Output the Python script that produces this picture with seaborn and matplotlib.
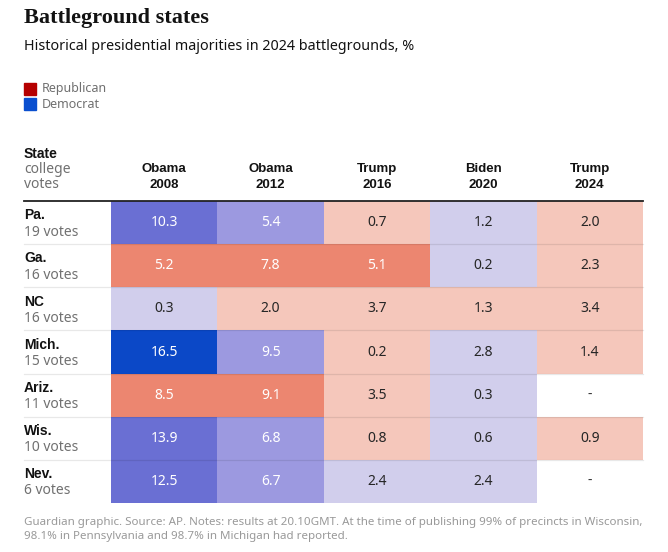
import numpy as np
import pandas as pd
import matplotlib
matplotlib.use("Agg")
import matplotlib.pyplot as plt
from matplotlib.colors import ListedColormap, BoundaryNorm
from matplotlib.patches import Rectangle
import matplotlib.transforms as mtransforms
import seaborn as sns

# data
states = ["Pa.", "Ga.", "NC", "Mich.", "Ariz.", "Wis.", "Nev."]
votes = [19, 16, 16, 15, 11, 10, 6]
candidates = ["Obama", "Obama", "Trump", "Biden", "Trump"]
years = ["2008", "2012", "2016", "2020", "2024"]

# winning margin, % (nan = not called)
margins = [
    [10.3, 5.4, 0.7, 1.2, 2.0],
    [5.2, 7.8, 5.1, 0.2, 2.3],
    [0.3, 2.0, 3.7, 1.3, 3.4],
    [16.5, 9.5, 0.2, 2.8, 1.4],
    [8.5, 9.1, 3.5, 0.3, np.nan],
    [13.9, 6.8, 0.8, 0.6, 0.9],
    [12.5, 6.7, 2.4, 2.4, np.nan],
]
# winning party per state / election
winners = [
    ["D", "D", "R", "D", "R"],
    ["R", "R", "R", "D", "R"],
    ["D", "R", "R", "R", "R"],
    ["D", "D", "R", "D", "R"],
    ["R", "R", "R", "D", "-"],
    ["D", "D", "R", "D", "R"],
    ["D", "D", "D", "D", "-"],
]

elections = [f"{c} {y}" for c, y in zip(candidates, years)]
abs_df = pd.DataFrame(margins, index=states, columns=elections)
sign = pd.DataFrame(winners, index=states, columns=elections).replace({"D": -1, "R": 1, "-": np.nan}).astype(float)
signed = abs_df * sign

# binned colour scale: democrat negative, republican positive
bins = [-20, -15, -10, -5, 0, 5, 10]
colors = ["#0b48c7", "#6a6fd3", "#9c99e0", "#d1ceec", "#f5c7bb", "#ec8670"]
cmap = ListedColormap(colors)
norm = BoundaryNorm(bins, cmap.N)

sans = ["Noto Sans", "DejaVu Sans"]
bold_sans = ["Liberation Sans", "DejaVu Sans"]
plt.rcParams["font.family"] = sans

fig = plt.figure(figsize=(6.68, 5.52), dpi=100)
W, H = 668, 552
ax = fig.add_axes([111 / W, 1 - 503 / H, 532 / W, 302 / H])

sns.heatmap(signed, ax=ax, cmap=cmap, norm=norm, cbar=False,
            annot=abs_df, fmt=".1f", annot_kws={"fontsize": 10},
            linewidths=0)

# dashes for missing cells
for i, row in enumerate(winners):
    for j, w in enumerate(row):
        if w == "-":
            ax.text(j + 0.5, i + 0.5, "-", ha="center", va="center",
                    fontsize=10, color="#333333")

ax.set_xticks([])
ax.set_yticks([])
ax.set_xlabel("")
ax.set_ylabel("")

# column headers
trans_top = mtransforms.blended_transform_factory(ax.transData, fig.transFigure)
for j, (c, y) in enumerate(zip(candidates, years)):
    for txt, yy in ((c, 169), (y, 185)):
        ax.text(j + 0.5, 1 - yy / H, txt, transform=trans_top, ha="center",
                va="center", fontsize=9.5, fontweight="bold", family=bold_sans,
                color="#121212", clip_on=False)

# row labels, separators
trans = mtransforms.blended_transform_factory(fig.transFigure, ax.transData)
x_left = 24 / W
x_right = 643 / W
for i, (s, v) in enumerate(zip(states, votes)):
    ax.text(x_left, i + 0.33, s, transform=trans, ha="left", va="center",
            fontsize=10, fontweight="bold", family=bold_sans, color="#121212",
            clip_on=False)
    ax.text(x_left, i + 0.72, f"{v} votes", transform=trans, ha="left", va="center",
            fontsize=10, color="#707070", clip_on=False)
    if i > 0:
        ax.plot([x_left, x_right], [i, i], transform=trans, color="black",
                alpha=0.09, lw=0.9, clip_on=False)
ax.plot([x_left, x_right], [0, 0], transform=trans, color="#222222", lw=1.3,
        clip_on=False)

# header for row label column
fig.text(x_left, 1 - 154 / H, "State", fontsize=10, fontweight="bold",
         family=bold_sans, color="#121212", va="center")
fig.text(x_left, 1 - 169.5 / H, "college", fontsize=10, color="#707070", va="center")
fig.text(x_left, 1 - 185 / H, "votes", fontsize=10, color="#707070", va="center")

# title, subtitle
fig.text(x_left, 1 - 18 / H, "Battleground states", fontsize=16,
         fontweight="bold", family=["Liberation Serif", "DejaVu Serif"],
         color="#121212", va="center")
fig.text(x_left, 1 - 47 / H, "Historical presidential majorities in 2024 battlegrounds, %",
         fontsize=10.3, color="#121212", va="center")

# legend
for k, (lab, col) in enumerate([("Republican", "#b50000"), ("Democrat", "#0a4fcf")]):
    yc = 89 + k * 15
    fig.patches.append(Rectangle((24 / W, 1 - (yc + 6) / H), 12 / W, 12 / H,
                                 transform=fig.transFigure, color=col))
    fig.text(42 / W, 1 - yc / H, lab, fontsize=9, color="#707070", va="center")

# footer
fig.text(x_left, 1 - 522 / H,
         "Guardian graphic. Source: AP. Notes: results at 20.10GMT. At the time of publishing 99% of precincts in Wisconsin,",
         fontsize=8.3, color="#999999", va="center")
fig.text(x_left, 1 - 536 / H,
         "98.1% in Pennsylvania and 98.7% in Michigan had reported.",
         fontsize=8.3, color="#999999", va="center")

fig.savefig("out.png", dpi=100)
